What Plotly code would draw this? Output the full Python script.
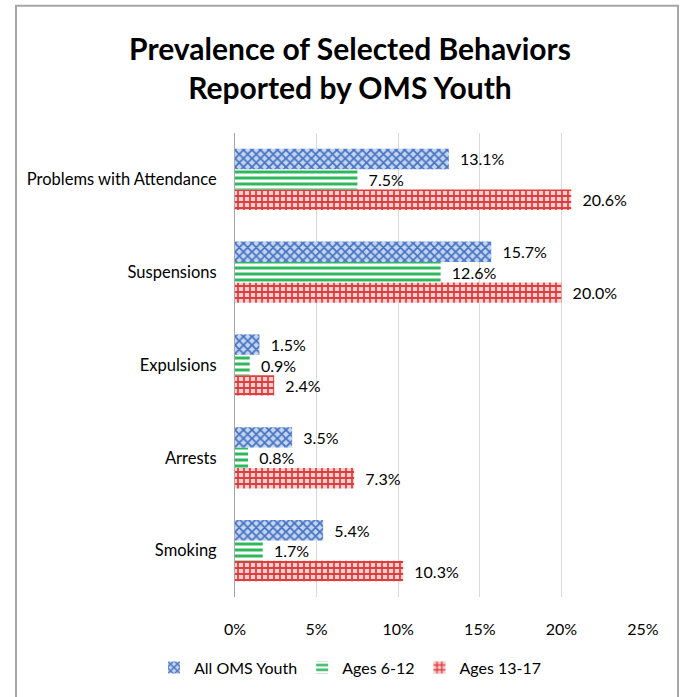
import plotly.graph_objects as go

categories = ["Problems with Attendance", "Suspensions", "Expulsions", "Arrests", "Smoking"]
series_names = ["All OMS Youth", "Ages 6-12", "Ages 13-17"]
all_youth = [13.1, 15.7, 1.5, 3.5, 5.4]
ages_6_12 = [7.5, 12.6, 0.9, 0.8, 1.7]
ages_13_17 = [20.6, 20.0, 2.4, 7.3, 10.3]
tick_vals = [0, 5, 10, 15, 20, 25]
tick_text = ["0%", "5%", "10%", "15%", "20%", "25%"]

FONT = "Lato, Open Sans, sans-serif"

styles = [
    dict(fg="#4472C4", bg="#C5D5EE", shape="x"),
    dict(fg="#2EB85C", bg="#FFFFFF", shape="-"),
    dict(fg="#E03C3C", bg="#F8D0D0", shape="+"),
]

W, H = 681, 697
L, R, T, B = 235, 38, 133, 97
pw, ph = W - L - R, H - T - B

fig = go.Figure()
cats_rev = categories[::-1]
series = list(zip(series_names, [all_youth, ages_6_12, ages_13_17], styles))
# add in reverse so that "All OMS Youth" sits on top within each group
for name, vals, st in series[::-1]:
    v = vals[::-1]
    fig.add_trace(go.Bar(
        y=cats_rev, x=v, name=name, orientation="h",
        marker=dict(color=st["bg"], line=dict(width=0),
                    pattern=dict(shape=st["shape"], fgcolor=st["fg"], bgcolor=st["bg"],
                                 size=6, solidity=0.5, fillmode="replace")),
        text=[f"  {x:.1f}%" for x in v], textposition="outside",
        textfont=dict(family=FONT, size=16, color="#000000"),
        cliponaxis=False,
    ))

def px_to_paper_x(px):
    return (px - L) / pw

def px_to_paper_y(py):
    return (H - B - py) / ph

fig.add_shape(type="rect", xref="paper", yref="paper",
              x0=px_to_paper_x(16), x1=px_to_paper_x(678),
              y0=px_to_paper_y(710), y1=px_to_paper_y(5),
              line=dict(color="#A6A6A6", width=2), fillcolor="rgba(0,0,0,0)", layer="below")

fig.update_layout(
    width=W, height=H,
    margin=dict(l=L, r=R, t=T, b=B),
    paper_bgcolor="white", plot_bgcolor="white",
    barmode="group", bargap=0.34, bargroupgap=0.0,
    title=dict(text="<b>Prevalence of Selected Behaviors<br>Reported by OMS Youth</b>",
               x=(350) / W, xanchor="center", y=1 - 60 / H, yanchor="middle",
               font=dict(family=FONT, size=30, color="#000000")),
    font=dict(family=FONT, size=16, color="#000000"),
    xaxis=dict(range=[0, 25], tickvals=tick_vals, ticktext=tick_text,
               showgrid=True, gridcolor="#D9D9D9", gridwidth=1, zeroline=False,
               showline=False, ticks="", tickfont=dict(size=16), ticklabelstandoff=21),
    yaxis=dict(showline=True, linecolor="#A6A6A6", linewidth=1, ticks="",
               tickfont=dict(size=16.5), ticklabelstandoff=14),
    legend=dict(orientation="h", x=px_to_paper_x(350), xanchor="center",
                y=px_to_paper_y(671), yanchor="middle",
                font=dict(family=FONT, size=16), traceorder="reversed",
                itemwidth=30),
)

fig.write_html("out.html")
